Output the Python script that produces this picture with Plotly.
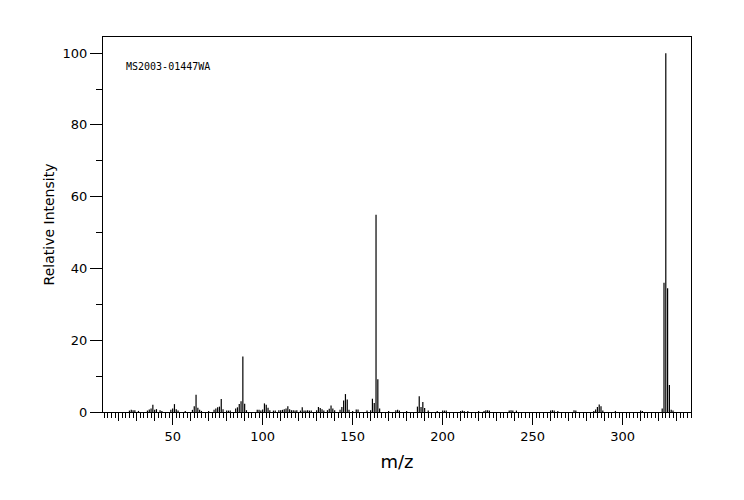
import plotly.graph_objects as go

# m/z values and relative intensities
mz = [26, 27, 28, 29, 31, 36, 37, 38, 39, 40, 41, 43, 44, 49, 50, 51, 52, 53, 57,
      61, 62, 63, 64, 65, 66, 70, 73, 74, 75, 76, 77, 78, 80, 81, 82, 85, 86, 87, 88,
      89, 90, 91, 97, 98, 99, 100, 101, 102, 103, 104, 106, 107, 109, 110, 111, 112,
      113, 114, 115, 116, 117, 118, 119, 121, 122, 123, 124, 125, 126, 127, 130, 131,
      132, 133, 134, 136, 137, 138, 139, 140, 143, 144, 145, 146, 147, 148, 150, 152,
      153, 158, 160, 161, 162, 163, 164, 165, 170, 174, 175, 176, 180, 186, 187, 188,
      189, 190, 192, 197, 200, 201, 202, 210, 211, 212, 214, 220, 223, 224, 225, 226,
      237, 238, 239, 241, 260, 261, 262, 264, 273, 274, 284, 285, 286, 287, 288, 289,
      296, 310, 311, 322, 323, 324, 325, 326, 327, 328]
intensity = [0.4, 0.6, 0.5, 0.5, 0.3, 0.4, 0.7, 1.0, 2.0, 0.6, 0.8, 0.5, 0.3, 0.6, 1.0,
             2.2, 0.8, 0.4, 0.3, 0.6, 1.6, 4.8, 1.2, 0.6, 0.3, 0.3, 0.6, 1.0, 1.3, 1.5,
             3.6, 0.8, 0.4, 0.4, 0.4, 1.0, 1.3, 2.2, 3.0, 15.5, 2.3, 0.5, 0.6, 0.6, 0.4,
             0.7, 2.4, 2.0, 1.2, 0.5, 0.4, 0.4, 0.5, 0.5, 0.6, 0.8, 1.0, 1.6, 0.8, 0.5,
             0.5, 0.4, 0.5, 0.4, 1.3, 0.4, 0.4, 0.5, 0.4, 0.4, 0.5, 1.4, 1.1, 0.8, 0.4,
             0.5, 0.9, 1.8, 1.0, 0.5, 0.6, 1.4, 3.2, 5.0, 3.5, 0.6, 0.3, 0.7, 0.7, 0.4,
             0.5, 3.7, 2.5, 55.0, 9.1, 1.0, 0.3, 0.5, 0.6, 0.4, 0.3, 1.5, 4.4, 1.4, 2.8,
             1.1, 0.4, 0.3, 0.4, 0.4, 0.4, 0.3, 0.4, 0.3, 0.3, 0.3, 0.3, 0.5, 0.5, 0.4,
             0.4, 0.5, 0.4, 0.4, 0.4, 0.5, 0.4, 0.3, 0.5, 0.4, 0.3, 0.7, 1.4, 2.1, 1.6,
             0.4, 0.3, 0.4, 0.3, 1.0, 36.0, 100.0, 34.5, 7.5, 0.6, 0.4]

x_tick_vals = [50, 100, 150, 200, 250, 300]
y_tick_vals = [0, 20, 40, 60, 80, 100]
sample_id = "MS2003-01447WA"

# build stick lines from the data
xs, ys = [], []
for m, v in zip(mz, intensity):
    xs += [m, m, None]
    ys += [0, v, None]

fig = go.Figure()
fig.add_trace(go.Scatter(x=xs, y=ys, mode="lines",
                         line=dict(color="black", width=1.2),
                         hoverinfo="skip", showlegend=False))
# invisible trace on the secondary x axis so it renders
fig.add_trace(go.Scatter(x=[mz[0]], y=[0], xaxis="x2", mode="markers",
                         marker=dict(opacity=0), showlegend=False, hoverinfo="skip"))

font = "DejaVu Sans"
x_range = [11.3, 338.0]
fig.update_layout(
    width=744, height=500,
    margin=dict(l=95, r=61, t=29, b=96),
    paper_bgcolor="white", plot_bgcolor="white",
    font=dict(family=font, color="black", size=13),
    xaxis=dict(range=x_range, tickvals=x_tick_vals, ticks="outside", ticklen=12,
               tickcolor="black", tickwidth=1, showgrid=False, zeroline=False,
               showline=True, linecolor="black", linewidth=1, mirror=True,
               tickfont=dict(size=13, family=font),
               title=dict(text="m/z", font=dict(size=18, family=font), standoff=12),
               minor=dict(dtick=2, tick0=0, ticks="outside", ticklen=5,
                          tickcolor="black", showgrid=False)),
    xaxis2=dict(range=x_range, overlaying="x", anchor="y", side="bottom",
                tickvals=list(range(10, 340, 10)), ticks="outside", ticklen=8,
                tickcolor="black", showticklabels=False, showgrid=False,
                zeroline=False, showline=False),
    yaxis=dict(range=[0, 104.5], tickvals=y_tick_vals, ticks="outside", ticklen=12,
               tickcolor="black", showgrid=False, zeroline=False, showline=True,
               linecolor="black", linewidth=1, mirror=True,
               tickfont=dict(size=13, family=font),
               title=dict(text="Relative Intensity", font=dict(size=14, family=font),
                          standoff=4),
               minor=dict(dtick=10, ticks="outside", ticklen=6, tickcolor="black",
                          showgrid=False)),
    annotations=[dict(text=sample_id, xref="paper", yref="paper", x=0.035, y=0.92,
                      xanchor="left", yanchor="middle", showarrow=False,
                      font=dict(family="DejaVu Sans Mono", size=10, color="black"))],
)

fig.write_html("out.html")
